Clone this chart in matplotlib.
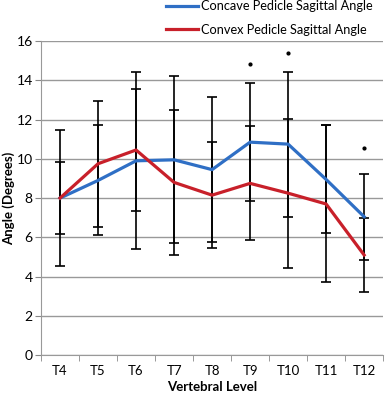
import numpy as np
import matplotlib
matplotlib.use("Agg")
import matplotlib.pyplot as plt

plt.rcParams["font.family"] = ["Lato", "DejaVu Sans"]

levels = ["T4", "T5", "T6", "T7", "T8", "T9", "T10", "T11", "T12"]
concave = [8.0, 8.9, 9.9, 9.95, 9.45, 10.85, 10.75, 8.95, 7.05]
concave_sd = [3.45, 2.8, 4.5, 4.25, 3.7, 3.0, 3.7, 2.75, 2.2]
convex = [8.0, 9.75, 10.45, 8.8, 8.15, 8.75, 8.25, 7.7, 5.1]
convex_sd = [1.85, 3.2, 3.1, 3.7, 2.7, 2.9, 3.8, 4.0, 1.9]
sig_levels = ["T9", "T10", "T12"]
sig_y = [14.85, 15.4, 10.55]

BLUE = "#2f6fc5"
RED = "#c8202a"

fig = plt.figure(figsize=(3.87, 3.95), dpi=100)
ax = fig.add_axes([0.106, 0.101, 0.884, 0.795])

x = np.arange(len(levels))
err_kw = dict(fmt="none", ecolor="black", elinewidth=1.2, capsize=3.5, capthick=1.2, zorder=3)
ax.errorbar(x, concave, yerr=concave_sd, **err_kw)
ax.errorbar(x, convex, yerr=convex_sd, **err_kw)
ax.plot(x, concave, color=BLUE, lw=2.3, label="Concave Pedicle Sagittal Angle", zorder=4)
ax.plot(x, convex, color=RED, lw=2.3, label="Convex Pedicle Sagittal Angle", zorder=4)

# significance markers
sx = [levels.index(l) for l in sig_levels]
ax.plot(sx, sig_y, ls="none", marker="o", ms=2, color="black")

ax.set_xlim(-0.5, len(levels) - 0.5)
ax.set_ylim(0, 16)
ax.set_yticks(range(0, 17, 2))
ax.set_xticks(x)
ax.set_xticklabels(levels)
ax.set_xticks(np.arange(-0.5, len(levels)), minor=True)
ax.tick_params(axis="x", which="major", length=0, pad=7, labelsize=9.5)
ax.tick_params(axis="x", which="minor", length=4, color="#888888")
ax.tick_params(axis="y", length=4, color="#888888", labelsize=10, pad=2)
ax.grid(axis="y", color="#999999", lw=1)
ax.set_axisbelow(True)
for s in ["top", "right"]:
    ax.spines[s].set_visible(False)
ax.spines["left"].set_color("#999999")
ax.spines["bottom"].set_color("#999999")

ax.set_xlabel("Vertebral Level", fontsize=9.5, fontweight="bold", labelpad=3)
ax.set_ylabel("Angle (Degrees)", fontsize=9.5, fontweight="bold")
ax.yaxis.set_label_coords(-0.075, 0.5)

fig.legend(loc="upper left", bbox_to_anchor=(0.40, 1.028), frameon=False,
           fontsize=9.2, handlelength=2.5, handletextpad=0.25, labelspacing=0.9)

fig.savefig("out.png", dpi=100)
